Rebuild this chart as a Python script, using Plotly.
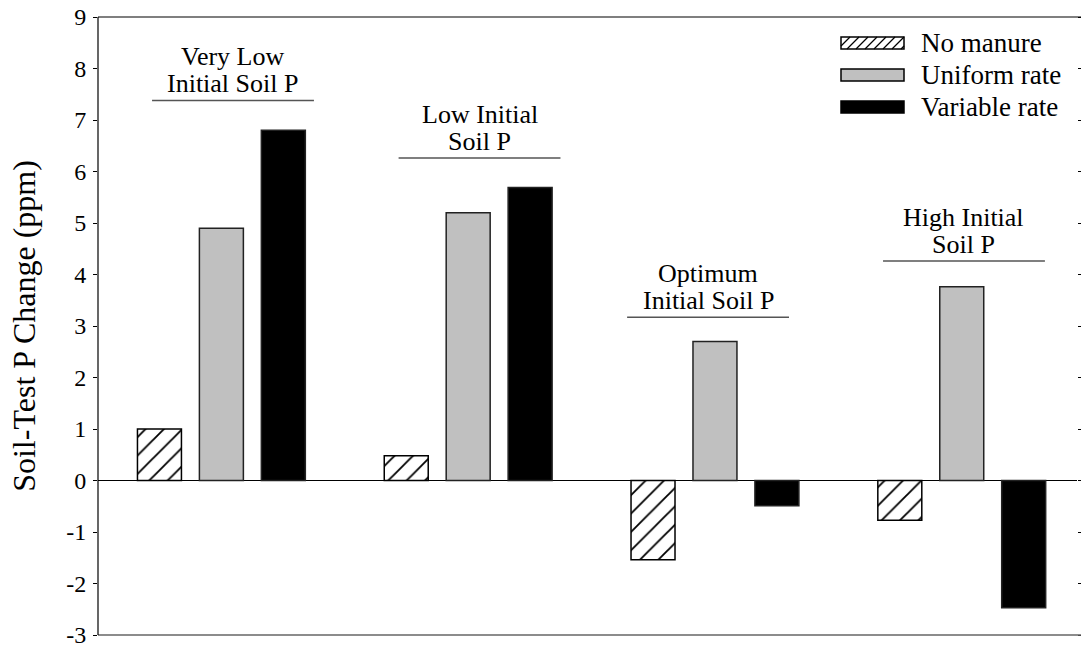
import plotly.graph_objects as go

# ---- data ----
group_names = ["Very Low Initial Soil P", "Low Initial Soil P",
               "Optimum Initial Soil P", "High Initial Soil P"]
group_pos = [0, 1, 2, 3]
series_names = ["No manure", "Uniform rate", "Variable rate"]
no_manure = [1.0, 0.48, -1.54, -0.77]
uniform_rate = [4.9, 5.2, 2.7, 3.76]
variable_rate = [6.8, 5.69, -0.49, -2.47]
label_lines = [["Very Low", "Initial Soil P"], ["Low Initial", "Soil P"],
               ["Optimum", "Initial Soil P"], ["High Initial", "Soil P"]]
label_x = [0.047, 1.046, 1.972, 3.009]
label_y = [7.38, 6.26, 3.17, 4.26]
y_tickvals = [-3, -2, -1, 0, 1, 2, 3, 4, 5, 6, 7, 8, 9]
y_ticktext = ["-3", "-2", "-1", "0", "1", "2", "3", "4", "5", "6", "7", "8", "9"]
y_title = "Soil-Test P Change (ppm)"

FONT = "Times New Roman, Liberation Serif, DejaVu Serif, serif"
W, H = 1081, 650
ML, MR, MT, MB = 98, 4, 17, 15
PW, PH = W - ML - MR, H - MT - MB

fig = go.Figure()
fig.add_trace(go.Bar(
    x=group_pos, y=no_manure, name=series_names[0],
    marker=dict(color="white", line=dict(color="black", width=1.5),
                pattern=dict(shape="/", size=13, solidity=0.14, fgopacity=1,
                             fgcolor="black", bgcolor="white", fillmode="overlay")),
    showlegend=False))
fig.add_trace(go.Bar(
    x=group_pos, y=uniform_rate, name=series_names[1],
    marker=dict(color="#c0c0c0", line=dict(color="#222", width=1.5)),
    showlegend=False))
fig.add_trace(go.Bar(
    x=group_pos, y=variable_rate, name=series_names[2],
    marker=dict(color="black", line=dict(color="#222", width=1.5)),
    showlegend=False))

shapes = []
annotations = []

# group labels with underline
half = 0.328
for lines, cx, cy in zip(label_lines, label_x, label_y):
    shapes.append(dict(type="line", xref="x", yref="y", x0=cx - half, x1=cx + half,
                       y0=cy, y1=cy, line=dict(color="#555", width=1.5)))
    annotations.append(dict(x=cx, y=cy, xref="x", yref="y", text=lines[0],
                            showarrow=False, yanchor="middle", yshift=44,
                            font=dict(family=FONT, size=26, color="black")))
    annotations.append(dict(x=cx, y=cy, xref="x", yref="y", text=lines[1],
                            showarrow=False, yanchor="middle", yshift=17,
                            font=dict(family=FONT, size=26, color="black")))

# frame lines
shapes.append(dict(type="line", xref="paper", yref="paper", x0=0, x1=1.01, y0=1, y1=1,
                   line=dict(color="black", width=1.2)))
shapes.append(dict(type="line", xref="paper", yref="paper", x0=0, x1=1.01, y0=0, y1=0,
                   line=dict(color="#666", width=1.5)))
shapes.append(dict(type="line", xref="paper", yref="paper", x0=0, x1=0, y0=0, y1=1,
                   line=dict(color="black", width=1.2)))

# manual legend (positions given in page pixels)
def px_x(p):
    return (p - ML) / PW

def px_y(p):
    return (H - MB - p) / PH

sw_x0, sw_w, sw_h = px_x(841), 63, 12
row_y = [43, 75, 107]
fills = ["white", "#c0c0c0", "black"]
for i, name in enumerate(series_names):
    yc = px_y(row_y[i])
    shapes.append(dict(type="rect", xref="paper", yref="paper",
                       xsizemode="pixel", ysizemode="pixel",
                       xanchor=sw_x0, yanchor=yc,
                       x0=0, x1=sw_w, y0=-sw_h / 2, y1=sw_h / 2,
                       fillcolor=fills[i], line=dict(color="black", width=1.5)))
    if i == 0:
        k = -sw_h
        while k < sw_w:
            xa, ya = k, -sw_h / 2
            xb, yb = k + sw_h, sw_h / 2
            if xa < 0:
                ya = ya - xa
                xa = 0
            if xb > sw_w:
                yb = yb - (xb - sw_w)
                xb = sw_w
            if xb > xa:
                shapes.append(dict(type="line", xref="paper", yref="paper",
                                   xsizemode="pixel", ysizemode="pixel",
                                   xanchor=sw_x0, yanchor=yc,
                                   x0=xa, x1=xb, y0=ya, y1=yb,
                                   line=dict(color="black", width=1.2)))
            k += 9
    annotations.append(dict(x=px_x(919), y=yc, xref="paper", yref="paper",
                            text=name, showarrow=False, xanchor="left",
                            yanchor="middle",
                            font=dict(family=FONT, size=27, color="black")))

fig.update_layout(
    width=W, height=H,
    margin=dict(l=ML, r=MR, t=MT, b=MB, autoexpand=False),
    paper_bgcolor="white", plot_bgcolor="white",
    barmode="group", bargap=0.247, bargroupgap=0.29,
    font=dict(family=FONT, color="black"),
    shapes=shapes, annotations=annotations,
    xaxis=dict(range=[-0.5, 3.467], showticklabels=False, ticks="",
               showgrid=False, zeroline=False, showline=False, automargin=False),
    yaxis=dict(range=[-3, 9], tickvals=y_tickvals, ticktext=y_ticktext,
               ticks="outside", ticklen=4, tickwidth=1, tickcolor="black",
               mirror="ticks", showline=False, showgrid=False, automargin=False,
               ticklabeloverflow="allow",
               zeroline=True, zerolinecolor="black", zerolinewidth=1.2,
               tickfont=dict(family=FONT, size=24, color="black"),
               ticklabelstandoff=2,
               title=dict(text=y_title, standoff=21,
                          font=dict(family=FONT, size=32, color="black"))),
)

fig.write_html("out.html",
               config={"displayModeBar": False},
               post_script="document.body.style.margin='0';document.body.style.overflow='hidden';")
